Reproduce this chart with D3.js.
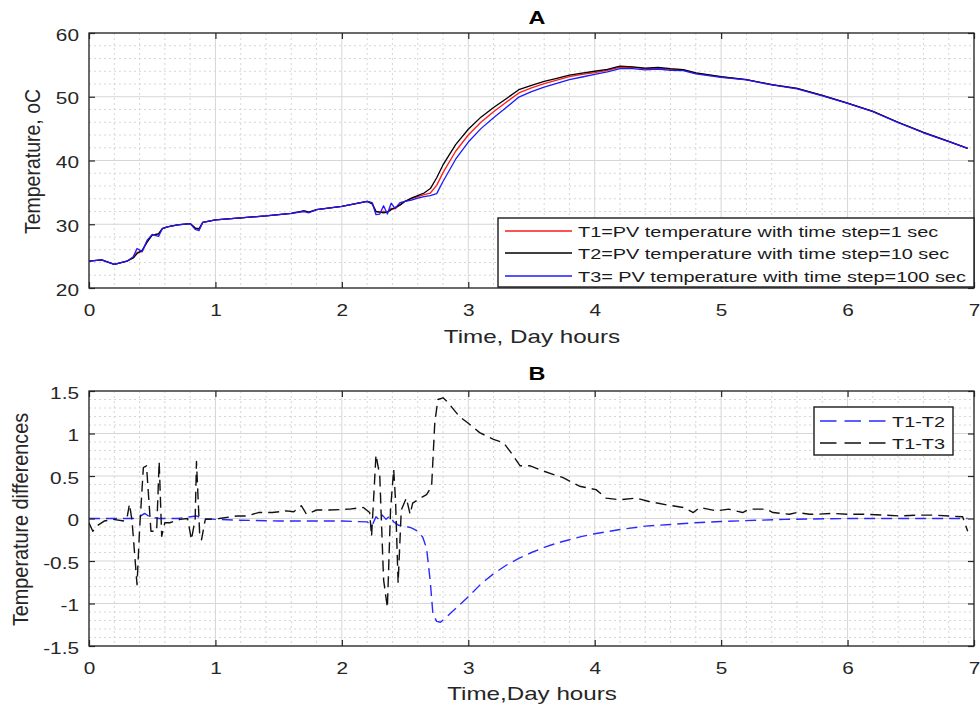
<!DOCTYPE html>
<html>
<head>
<meta charset="utf-8">
<script src="https://cdn.jsdelivr.net/npm/d3@7"></script>
<style>
  body { margin: 0; background: #fff; }
  svg { display: block; }
  text { font-family: "Liberation Sans", Arial, Helvetica, sans-serif; }
</style>
</head>
<body>
<svg id="chart" width="980" height="706"></svg>
<script>
// ---- Panel A: PV temperature for three simulation time steps ----
const hoursA = [0, 0.1, 0.2, 0.3, 0.35, 0.38, 0.42, 0.46, 0.5, 0.55,
  0.58, 0.62, 0.7, 0.8, 0.84, 0.87, 0.9, 1.0, 1.2, 1.4,
  1.6, 1.7, 1.74, 1.8, 2.0, 2.2, 2.24, 2.27, 2.3, 2.33,
  2.36, 2.39, 2.42, 2.46, 2.5, 2.55, 2.6, 2.65, 2.7, 2.75,
  2.8, 2.9, 3.0, 3.1, 3.2, 3.3, 3.4, 3.5, 3.6, 3.7,
  3.8, 3.9, 4.0, 4.1, 4.2, 4.3, 4.4, 4.5, 4.6, 4.7,
  4.8, 5.0, 5.2, 5.4, 5.6, 5.8, 6.0, 6.2, 6.4, 6.6,
  6.8, 6.95];

const tempT1 = [24.2, 24.4, 23.7, 24.2, 24.8, 25.6, 25.7, 27.4, 28.3, 28.5,
  29.3, 29.6, 29.9, 30.1, 29.4, 29.2, 30.3, 30.7, 31.0, 31.3,
  31.7, 32.1, 31.9, 32.3, 32.8, 33.6, 33.3, 32.0, 31.9, 32.0,
  31.9, 32.5, 32.4, 33.1, 33.6, 34.0, 34.35, 34.65, 34.9, 36.1,
  38.1, 41.45, 44.0, 46.0, 47.65, 49.15, 50.6, 51.4, 52.05, 52.6,
  53.15, 53.5, 53.8, 54.15, 54.65, 54.6, 54.4, 54.5, 54.3, 54.2,
  53.7, 53.1, 52.7, 51.9, 51.3, 50.2, 49.0, 47.7, 46.0, 44.4,
  43.0, 41.9];

const tempT2 = [24.2, 24.4, 23.7, 24.2, 24.7, 25.4, 25.9, 27.2, 28.3, 28.5,
  29.3, 29.6, 29.9, 30.1, 29.4, 29.3, 30.3, 30.7, 31.0, 31.3,
  31.7, 32.1, 31.9, 32.3, 32.8, 33.6, 33.2, 32.0, 31.9, 31.8,
  31.9, 32.3, 32.6, 33.0, 33.6, 34.1, 34.5, 34.9, 35.6, 37.3,
  39.3, 42.5, 44.9, 46.8, 48.3, 49.7, 51.1, 51.8, 52.4, 52.9,
  53.4, 53.7, 54.0, 54.3, 54.8, 54.7, 54.5, 54.6, 54.4, 54.25,
  53.75, 53.15, 52.7, 51.9, 51.3, 50.2, 49.0, 47.7, 46.0, 44.4,
  43.0, 41.9];

const tempT3 = [24.2, 24.4, 23.7, 24.2, 24.9, 26.2, 25.7, 27.5, 28.4, 28.1,
  29.3, 29.6, 29.9, 30.1, 29.2, 29.0, 30.3, 30.7, 31.0, 31.3,
  31.7, 32.0, 31.8, 32.3, 32.8, 33.6, 33.4, 31.5, 31.6, 32.9,
  31.6, 33.3, 32.5, 33.4, 33.6, 33.8, 34.1, 34.35, 34.5, 34.8,
  36.7, 40.2, 42.9, 45.0, 46.7, 48.3, 49.95, 50.8, 51.5, 52.1,
  52.7, 53.1, 53.5, 53.9, 54.4, 54.4, 54.2, 54.35, 54.15, 54.1,
  53.6, 53.05, 52.65, 51.85, 51.25, 50.15, 48.95, 47.65, 45.95, 44.35,
  42.95, 41.9];

// ---- Panel B: temperature differences ----
const hoursD12 = [0, 0.2, 0.35, 0.4, 0.44, 0.48, 0.55, 0.7, 0.85, 0.9,
  1.0, 1.2, 1.5, 1.8, 2.0, 2.2, 2.24, 2.27, 2.3, 2.32,
  2.35, 2.38, 2.41, 2.45, 2.5, 2.55, 2.6, 2.64, 2.67, 2.7,
  2.72, 2.75, 2.78, 2.82, 2.9, 3.0, 3.1, 3.2, 3.3, 3.4,
  3.5, 3.6, 3.7, 3.8, 3.9, 4.0, 4.2, 4.4, 4.6, 4.8,
  5.0, 5.5, 6.0, 6.5, 6.95];
const diffT1T2 = [0, 0, 0, 0.02, 0.06, 0.02, 0, 0, 0.03, 0,
  -0.01, -0.02, -0.03, -0.03, -0.03, -0.04, -0.08, 0.02, -0.02, 0.04,
  -0.01, 0.03, -0.04, -0.08, -0.09, -0.11, -0.15, -0.22, -0.35, -0.75,
  -1.12, -1.21, -1.22, -1.17, -1.06, -0.92, -0.77, -0.65, -0.55, -0.47,
  -0.4, -0.34, -0.29, -0.25, -0.21, -0.18, -0.13, -0.09, -0.07, -0.05,
  -0.035, -0.01, 0, 0, 0];

const hoursD13 = [0, 0.03, 0.06, 0.12, 0.19, 0.28, 0.3, 0.32, 0.34, 0.38,
  0.4, 0.43, 0.455, 0.49, 0.535, 0.555, 0.575, 0.6, 0.64, 0.72,
  0.78, 0.81, 0.84, 0.85, 0.875, 0.89, 0.92, 1.03, 1.17, 1.25,
  1.34, 1.45, 1.56, 1.62, 1.68, 1.72, 1.8, 1.9, 2.06, 2.17,
  2.22, 2.235, 2.27, 2.3, 2.33, 2.36, 2.385, 2.41, 2.425, 2.445,
  2.47, 2.51, 2.54, 2.56, 2.62, 2.67, 2.71, 2.735, 2.76, 2.8,
  2.83, 2.93, 3.0, 3.09, 3.2, 3.28, 3.35, 3.41, 3.49, 3.59,
  3.75, 3.88, 4.01, 4.09, 4.2, 4.33, 4.43, 4.57, 4.7, 4.78,
  4.83, 4.96, 5.06, 5.17, 5.22, 5.36, 5.41, 5.54, 5.6, 5.7,
  5.76, 5.88, 6.0, 6.15, 6.28, 6.41, 6.55, 6.67, 6.8, 6.91,
  6.95];
const diffT1T3 = [-0.05, -0.15, -0.09, -0.03, -0.01, -0.03, 0, 0.17, -0.02, -0.78,
  -0.13, 0.6, 0.62, -0.15, -0.15, 0.67, -0.21, -0.05, -0.05, -0.01,
  0, -0.25, 0, 0.67, -0.17, -0.25, -0.01, 0, 0.03, 0.03,
  0.07, 0.07, 0.09, 0.08, 0.15, 0.05, 0.1, 0.1, 0.11, 0.13,
  0.07, -0.21, 0.75, 0.5, -0.72, -1.05, 0.1, 0.58, 0.2, -0.76,
  0.1, 0.24, 0.05, 0.18, 0.24, 0.28, 0.38, 1.13, 1.4, 1.42,
  1.38, 1.2, 1.12, 1.01, 0.93, 0.89, 0.75, 0.62, 0.62, 0.56,
  0.48, 0.38, 0.34, 0.24, 0.22, 0.24, 0.2, 0.16, 0.13, 0.07,
  0.13, 0.09, 0.11, 0.07, 0.11, 0.11, 0.07, 0.05, 0.07, 0.05,
  0.05, 0.06, 0.05, 0.05, 0.04, 0.03, 0.04, 0.04, 0.03, 0.02,
  -0.15];

// ---- Ticks and labels ----
const hourTicks = [0, 1, 2, 3, 4, 5, 6, 7];
const tempTicks = [20, 30, 40, 50, 60];
const diffTicks = [-1.5, -1, -0.5, 0, 0.5, 1, 1.5];
const legendTemp = [
  "T1=PV temperature with time step=1 sec",
  "T2=PV temperature with time step=10 sec",
  "T3= PV temperature with time step=100 sec"
];
const legendDiff = ["T1-T2", "T1-T3"];

// ---- Drawing ----
const svg = d3.select("#chart");
const SX = 1.3;          // horizontal text aspect
const INK = "#262626";
const left = 89, right = 974;

function stretchedText(g, x, y, str, opts) {
  const t = g.append("text")
    .attr("transform", `translate(${x},${y}) scale(${opts.sx || SX},1)` + (opts.rotate ? ` rotate(${opts.rotate})` : ""))
    .attr("text-anchor", opts.anchor || "start")
    .attr("font-size", opts.size)
    .attr("fill", opts.fill || INK)
    .text(str);
  if (opts.bold) t.attr("font-weight", "bold");
  return t;
}

function drawPanel(cfg) {
  const g = svg.append("g");
  const x = d3.scaleLinear().domain([0, 7]).range([left, right]);
  const y = d3.scaleLinear().domain(cfg.yDomain).range([cfg.bottom, cfg.top]);

  g.append("rect").attr("x", left).attr("y", cfg.top)
    .attr("width", right - left).attr("height", cfg.bottom - cfg.top).attr("fill", "#fff");

  // minor grid
  const isMajor = (v, step) => Math.abs(v / step - Math.round(v / step)) < 1e-6;
  const xMinor = d3.range(0, 7.0001, 0.2).filter(v => !isMajor(v, 1));
  const yMinor = d3.range(cfg.yDomain[0], cfg.yDomain[1] + 1e-6, cfg.yMinorStep)
    .filter(v => !isMajor(v - cfg.yDomain[0], cfg.yMajorStep));
  g.append("g").selectAll("line").data(xMinor).join("line")
    .attr("x1", d => x(d)).attr("x2", d => x(d)).attr("y1", cfg.top).attr("y2", cfg.bottom)
    .attr("stroke", "#cccccc").attr("stroke-width", 0.8).attr("stroke-dasharray", "2,3");
  g.append("g").selectAll("line").data(yMinor).join("line")
    .attr("x1", left).attr("x2", right).attr("y1", d => y(d)).attr("y2", d => y(d))
    .attr("stroke", "#cccccc").attr("stroke-width", 0.8).attr("stroke-dasharray", "2,3");

  // major grid
  g.append("g").selectAll("line").data(hourTicks).join("line")
    .attr("x1", d => x(d)).attr("x2", d => x(d)).attr("y1", cfg.top).attr("y2", cfg.bottom)
    .attr("stroke", "#d6d6d6").attr("stroke-width", 1);
  g.append("g").selectAll("line").data(cfg.yTicks).join("line")
    .attr("x1", left).attr("x2", right).attr("y1", d => y(d)).attr("y2", d => y(d))
    .attr("stroke", "#d6d6d6").attr("stroke-width", 1);

  // data
  const clipId = "clip" + cfg.name;
  svg.append("clipPath").attr("id", clipId).append("rect")
    .attr("x", left).attr("y", cfg.top).attr("width", right - left).attr("height", cfg.bottom - cfg.top);
  const lines = g.append("g").attr("clip-path", `url(#${clipId})`);
  cfg.series.forEach(s => {
    const pts = s.xs.map((h, i) => [h, s.ys[i]]);
    lines.append("path").datum(pts)
      .attr("d", d3.line().x(d => x(d[0])).y(d => y(d[1])))
      .attr("fill", "none").attr("stroke", s.color).attr("stroke-width", s.width)
      .attr("stroke-linejoin", "round")
      .attr("stroke-dasharray", s.dash || null);
  });

  // axes: ticks inside on all four sides
  const styleAxis = sel => {
    sel.select(".domain").remove();
    sel.selectAll(".tick line").attr("stroke", INK).attr("stroke-width", 1.2);
  };
  const gxb = g.append("g").attr("transform", `translate(0,${cfg.bottom})`)
    .call(d3.axisBottom(x).tickValues(hourTicks).tickSize(-6).tickPadding(17).tickFormat(d3.format("d")));
  styleAxis(gxb);
  gxb.selectAll("text").attr("font-size", 16).attr("fill", INK)
    .attr("font-family", '"Liberation Sans", Arial, sans-serif')
    .attr("transform", `scale(${SX},1)`);

  const gxt = g.append("g").attr("transform", `translate(0,${cfg.top})`)
    .call(d3.axisTop(x).tickValues(hourTicks).tickSize(-6).tickFormat(""));
  styleAxis(gxt);

  const gyl = g.append("g").attr("transform", `translate(${left},0)`)
    .call(d3.axisLeft(y).tickValues(cfg.yTicks).tickSize(-6).tickPadding(7.7).tickFormat(d => String(d)));
  styleAxis(gyl);
  gyl.selectAll("text").attr("font-size", 16).attr("fill", INK).attr("dy", "0.45em")
    .attr("font-family", '"Liberation Sans", Arial, sans-serif')
    .attr("transform", `scale(${SX},1)`);

  const gyr = g.append("g").attr("transform", `translate(${right},0)`)
    .call(d3.axisRight(y).tickValues(cfg.yTicks).tickSize(-6).tickFormat(""));
  styleAxis(gyr);

  // box
  g.append("rect").attr("x", left).attr("y", cfg.top)
    .attr("width", right - left).attr("height", cfg.bottom - cfg.top)
    .attr("fill", "none").attr("stroke", INK).attr("stroke-width", 1.3);

  // titles and axis labels
  stretchedText(g, 537, cfg.titleY, cfg.title, { size: 18, anchor: "middle", bold: true, fill: "#000" });
  stretchedText(g, 532, cfg.xLabelY, cfg.xLabel, { size: 18.6, anchor: "middle" });
  stretchedText(g, cfg.yLabelX, (cfg.top + cfg.bottom) / 2 + 1, cfg.yLabel,
    { size: cfg.yLabelSize, anchor: "middle", rotate: -90, sx: 1.15 });

  // legend
  const L = cfg.legend;
  const lg = g.append("g");
  lg.append("rect").attr("x", L.x0).attr("y", L.y0).attr("width", L.x1 - L.x0).attr("height", L.y1 - L.y0)
    .attr("fill", "#fff").attr("stroke", "#1a1a1a").attr("stroke-width", 1.4);
  L.labels.forEach((lab, i) => {
    const s = cfg.series[L.order[i]];
    const ry = L.rows[i];
    lg.append("line").attr("x1", L.lx0).attr("x2", L.lx1).attr("y1", ry).attr("y2", ry)
      .attr("stroke", s.color).attr("stroke-width", s.width)
      .attr("stroke-dasharray", s.dash ? L.dash : null);
    stretchedText(lg, L.tx, ry + 5.5, lab, { size: L.size, fill: "#1a1a1a" });
  });
}

drawPanel({
  name: "A", top: 33, bottom: 288,
  yDomain: [20, 60], yTicks: tempTicks, yMajorStep: 10, yMinorStep: 2,
  title: "A", titleY: 24,
  xLabel: "Time, Day hours", xLabelY: 343,
  yLabel: "Temperature, oC", yLabelX: 40, yLabelSize: 19.5,
  series: [
    { xs: hoursA, ys: tempT1, color: "#ff1a1a", width: 1.3 },
    { xs: hoursA, ys: tempT2, color: "#000000", width: 1.3 },
    { xs: hoursA, ys: tempT3, color: "#1a1aff", width: 1.3 }
  ],
  legend: {
    x0: 498, x1: 974, y0: 218, y1: 287,
    rows: [231, 253, 276], lx0: 505, lx1: 572, tx: 578, size: 15.3,
    labels: legendTemp, order: [0, 1, 2]
  }
});

drawPanel({
  name: "B", top: 391, bottom: 646,
  yDomain: [-1.5, 1.5], yTicks: diffTicks, yMajorStep: 0.5, yMinorStep: 0.1,
  title: "B", titleY: 380,
  xLabel: "Time,Day hours", xLabelY: 700,
  yLabel: "Temperature differences", yLabelX: 28, yLabelSize: 19.8,
  series: [
    { xs: hoursD12, ys: diffT1T2, color: "#2a2aff", width: 1.4, dash: "11,6" },
    { xs: hoursD13, ys: diffT1T3, color: "#111111", width: 1.4, dash: "11,6" }
  ],
  legend: {
    x0: 814, x1: 953, y0: 407, y1: 455,
    rows: [421, 443], lx0: 820, lx1: 887, tx: 892, size: 15.3, dash: "16.5,8",
    labels: legendDiff, order: [0, 1]
  }
});
</script>
</body>
</html>
